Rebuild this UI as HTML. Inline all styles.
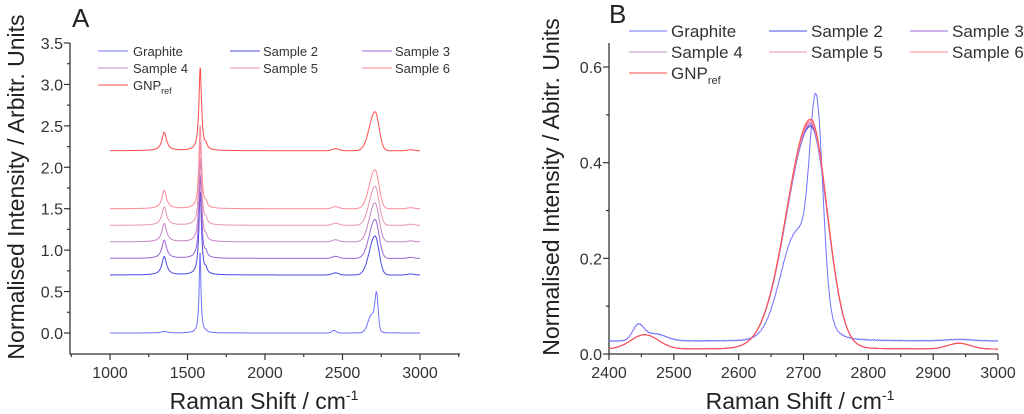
<!DOCTYPE html>
<html><head><meta charset="utf-8"><style>
body{margin:0;background:#fff;}
svg{display:block;font-family:"Liberation Sans",sans-serif;}
</style></head><body>
<svg id="s" width="1024" height="414" viewBox="0 0 1024 414" xmlns="http://www.w3.org/2000/svg">
<g fill="#222">
<text x="72" y="27" font-size="26">A</text>
<text x="609" y="23" font-size="26">B</text>
</g>
<g stroke="#333" stroke-width="1.3" fill="none">
<path d="M70,43V354H460"/>
<path d="M609,43V354H998"/>
</g>
<g id="ticks" stroke="#333" stroke-width="1.2"></g>
<g id="curves" fill="none" stroke-width="1"></g>
<g font-size="16" fill="#333" id="lbl"></g>
<g font-size="23" fill="#222">
<text transform="translate(24,187) rotate(-90)" text-anchor="middle">Normalised Intensity / Arbitr. Units</text>
<text transform="translate(559,187) rotate(-90)" text-anchor="middle">Normalised Intensity / Abitr. Units</text>
<text x="264" y="409" text-anchor="middle">Raman Shift / cm<tspan font-size="14" dy="-9">-1</tspan></text>
<text x="800" y="409" text-anchor="middle">Raman Shift / cm<tspan font-size="14" dy="-9">-1</tspan></text>
</g>
<g id="leg" font-size="13" fill="#333"></g>
</svg>
<script>
var NS="http://www.w3.org/2000/svg";
function el(p,t,a,txt){var e=document.createElementNS(NS,t);for(var k in a){e.setAttribute(k,String(a[k]));}if(txt!==undefined){e.appendChild(document.createTextNode(String(txt)));}document.getElementById(p).appendChild(e);return e;}
var cols=["#6f6fff","#4a4ae0","#9a66d8","#c685c8","#e596b4","#ff8a98","#ff4a4a"];
var names=["Graphite","Sample 2","Sample 3","Sample 4","Sample 5","Sample 6","GNP"];
function ax(x){return 110+(x-1000)*310/2000;}
function ay(y){return 333-y*82.86;}
function bx(x){return 609+(x-2400)*389/600;}
function by(y){return 354-y*478.3;}
function sq(a){return a*a;}
function L(x,c,w,h){return h/(1+sq((x-c)/w));}
function G(x,c,w,h){return h*Math.exp(-sq((x-c)/w));}
function GA(x,c,wl,wr,h){return G(x,c,x<c?wl:wr,h);}
try{
var i,v,x,y,maj;
for(i=0;i<=14;i++){v=i*0.25;y=ay(v);maj=(i%2==0);el("ticks","line",{x1:70,x2:70-(maj?6:3),y1:y,y2:y});if(maj)el("lbl","text",{x:63,y:y+6,"text-anchor":"end"},v.toFixed(1));}
for(v=750;v<=3250;v+=250){x=ax(v);maj=(v%500==0);el("ticks","line",{x1:x,x2:x,y1:354,y2:354+(maj?6:3)});if(maj)el("lbl","text",{x:x,y:378,"text-anchor":"middle"},v);}
for(i=0;i<=6;i++){v=i*0.1;y=by(v);maj=(i%2==0);el("ticks","line",{x1:609,x2:609-(maj?6:3),y1:y,y2:y});if(maj)el("lbl","text",{x:602,y:y+6,"text-anchor":"end"},v.toFixed(1));}
for(v=2400;v<=3000;v+=50){x=bx(v);maj=(v%100==0);el("ticks","line",{x1:x,x2:x,y1:354,y2:354+(maj?6:3)});if(maj)el("lbl","text",{x:x,y:378,"text-anchor":"middle"},v);}
}catch(e){}
function gra(x){return L(x,1350,20,0.02)+L(x,1581,7,0.98)+L(x,1620,8,0.01)+G(x,2445,20,0.03)+G(x,2720,14,0.37)+G(x,2690,35,0.22)+L(x,2720,25,0.02);}
function smp(x){return L(x,1350,18,0.22)+L(x,1582,10,1.0)+L(x,1620,8,0.05)+G(x,2455,30,0.025)+GA(x,2710,52,36,0.47)+G(x,2940,30,0.012);}
function graB(x){return 0.027+G(x,2445,12,0.03)+G(x,2470,25,0.015)+G(x,2720,14,0.385)+G(x,2690,36,0.22)+L(x,2722,30,0.02)+G(x,2940,30,0.003);}
function smpB(x,i){return 0.01+G(x,2455,30,0.03)+GA(x,2711,52,36,0.457+i*0.003)+L(x,2712,60,0.006)+G(x,2940,25,0.012);}
try{
var offs=[0,0.7,0.9,1.1,1.3,1.5,2.2];
for(var i=0;i<7;i++){var d="";for(var x=1000;x<=3000;x+=2){var v=(i==0?gra(x):smp(x))+offs[i];d+=(x==1000?"M":"L")+ax(x).toFixed(1)+","+ay(v).toFixed(1);}el("curves","path",{d:d,stroke:cols[i]});}
for(var i=0;i<7;i++){var d="";for(var x=2400;x<=3000;x+=1){var v=(i==0)?graB(x)+0.001*Math.sin(x*1.7):smpB(x,i);d+=(x==2400?"M":"L")+bx(x).toFixed(1)+","+by(v).toFixed(1);}el("curves","path",{d:d,stroke:cols[i]});}
}catch(e){}
try{
var la=[[98,133],[230,263],[362,395]],ra=[51,68,85];
var lb=[[629,671],[769,811],[910,952]],rb=[31,52,73];
for(var i=0;i<7;i++){var c=i%3,r=Math.floor(i/3);
el("leg","line",{x1:la[c][0],x2:la[c][0]+30,y1:ra[r],y2:ra[r],stroke:cols[i]});
var t1=el("leg","text",{x:la[c][1],y:ra[r]+5},names[i]);
el("leg","line",{x1:lb[c][0],x2:lb[c][0]+38,y1:rb[r],y2:rb[r],stroke:cols[i]});
var t2=el("leg","text",{x:lb[c][1],y:rb[r]+6,"font-size":"17"},names[i]);
if(i==6){var s1=document.createElementNS(NS,"tspan");s1.setAttribute("font-size","9");s1.setAttribute("dy","4");s1.appendChild(document.createTextNode("ref"));t1.appendChild(s1);
var s2=document.createElementNS(NS,"tspan");s2.setAttribute("font-size","11");s2.setAttribute("dy","5");s2.appendChild(document.createTextNode("ref"));t2.appendChild(s2);}
}
}catch(e){}
</script>
</body></html>
